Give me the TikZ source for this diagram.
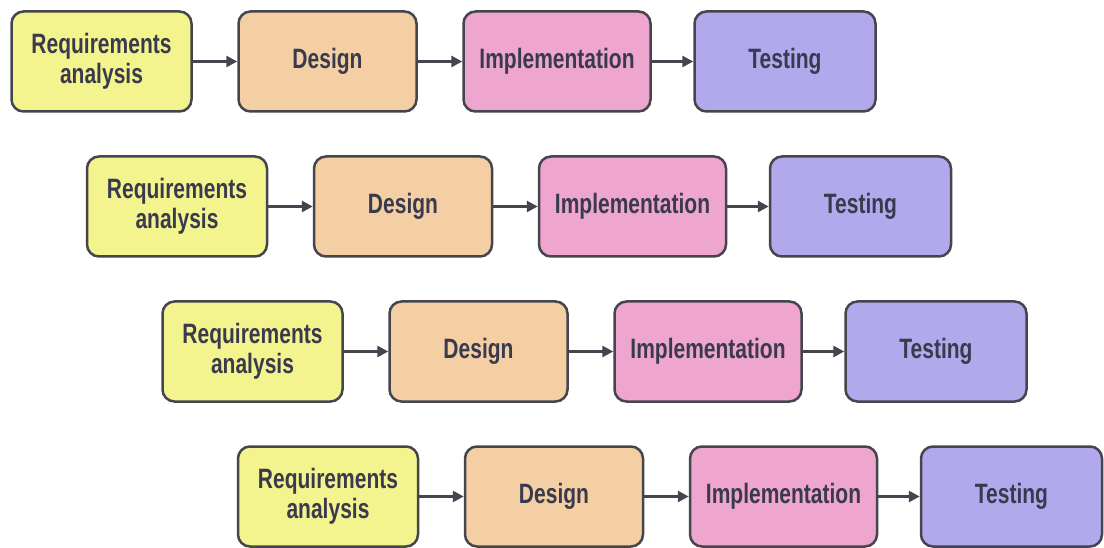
\documentclass[tikz,border=0pt]{standalone}
\usepackage{fontspec}
\setmainfont[FakeStretch=0.75]{Liberation Sans}
\usetikzlibrary{arrows.meta}
\definecolor{reqc}{HTML}{F4F48E}
\definecolor{desc}{HTML}{F3CFA3}
\definecolor{impc}{HTML}{EFA6CE}
\definecolor{tstc}{HTML}{B1A9EC}
\definecolor{edgec}{HTML}{45454F}
\definecolor{textc}{HTML}{3A3A4E}
\tikzset{
  box/.style={draw=edgec, line width=2.5pt, rounded corners=12pt,
    minimum height=100pt, text=textc, inner sep=0pt, align=center,
    font=\bfseries\fontsize{28}{30}\selectfont},
  conn/.style={draw=edgec, line width=2.8pt, -{Triangle[length=11pt,width=11pt]}}
}
\begin{document}
\begin{tikzpicture}[x=1pt,y=-1pt]
\useasboundingbox (0,0) rectangle (1104,548);
\fill[white] (0,0) rectangle (1104,548);
\foreach \r in {0,1,2,3}{
  \begin{scope}[shift={(75.5*\r,145*\r)}]
  \node[box, fill=reqc, minimum width=180pt] (req\r) at (101.5,61.5) {Requirements\\analysis};
  \node[box, fill=desc, minimum width=178pt] (des\r) at (327.5,61.5) {Design};
  \node[box, fill=impc, minimum width=187pt] (imp\r) at (557,61.5) {Implementation};
  \node[box, fill=tstc, minimum width=181pt] (tst\r) at (785,61.5) {Testing};
  \draw[conn] (req\r) -- (des\r);
  \draw[conn] (des\r) -- (imp\r);
  \draw[conn] (imp\r) -- (tst\r);
  \end{scope}
}
\end{tikzpicture}
\end{document}
